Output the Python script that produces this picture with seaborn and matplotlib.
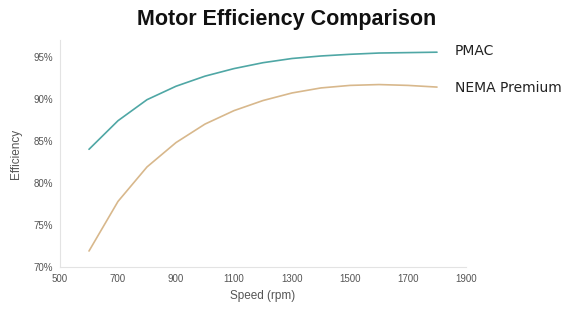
import pandas as pd
import matplotlib.pyplot as plt
import seaborn as sns
from matplotlib.ticker import FuncFormatter

# Values
speed = [600, 700, 800, 900, 1000, 1100, 1200, 1300, 1400, 1500, 1600, 1700, 1800]
pmac = [84.0, 87.4, 89.9, 91.5, 92.7, 93.6, 94.3, 94.8, 95.1, 95.3, 95.45, 95.5, 95.55]
nema = [71.9, 77.8, 81.9, 84.8, 87.0, 88.6, 89.8, 90.7, 91.3, 91.6, 91.7, 91.6, 91.4]
series_names = ["PMAC", "NEMA Premium"]
x_ticks = [500, 700, 900, 1100, 1300, 1500, 1700, 1900]
y_ticks = [70, 75, 80, 85, 90, 95]

colors = {"PMAC": "#4fa7a5", "NEMA Premium": "#d8b88c"}

df = pd.DataFrame({"Speed": speed * 2,
                   "Efficiency": pmac + nema,
                   "Motor": [series_names[0]] * len(speed) + [series_names[1]] * len(speed)})

sns.set_theme(style="white")
plt.rcParams['font.family'] = ['DejaVu Sans']

fig = plt.figure(figsize=(5.74, 3.21), dpi=100)
ax = fig.add_axes([60 / 574, 54 / 321, 406 / 574, 227 / 321])

sns.lineplot(data=df, x="Speed", y="Efficiency", hue="Motor", palette=colors,
             linewidth=1.2, legend=False, ax=ax)

ax.set_xlim(500, 1900)
ax.set_ylim(70, 97)
ax.set_xticks(x_ticks)
ax.set_yticks(y_ticks)
ax.yaxis.set_major_formatter(FuncFormatter(lambda v, _: f"{v:.0f}%"))
ax.tick_params(axis="both", labelsize=6.5, colors="#555555", length=0, pad=5)
for lbl in ax.get_xticklabels() + ax.get_yticklabels():
    lbl.set_family("Liberation Sans")
    lbl.set_fontsize(7)

for side in ["top", "right"]:
    ax.spines[side].set_visible(False)
for side in ["left", "bottom"]:
    ax.spines[side].set_color("#e3e3e3")
    ax.spines[side].set_linewidth(0.8)

ax.set_xlabel("Speed (rpm)", fontsize=8.5, color="#555555", labelpad=4, family="Liberation Sans")
ax.set_ylabel("Efficiency", fontsize=8.5, color="#555555", labelpad=8, family="Liberation Sans")

# direct labels at the line ends
ax.text(1862, pmac[-1] + 0.1, series_names[0], fontsize=10, color="#222222", va="center")
ax.text(1862, nema[-1] - 0.15, series_names[1], fontsize=10, color="#222222", va="center")

fig.text(0.5, 0.94, "Motor Efficiency Comparison", ha="center", va="center",
         fontsize=15.5, fontweight="bold", family="Liberation Sans", color="#111111")

fig.savefig("out.png", dpi=100, facecolor="white")
